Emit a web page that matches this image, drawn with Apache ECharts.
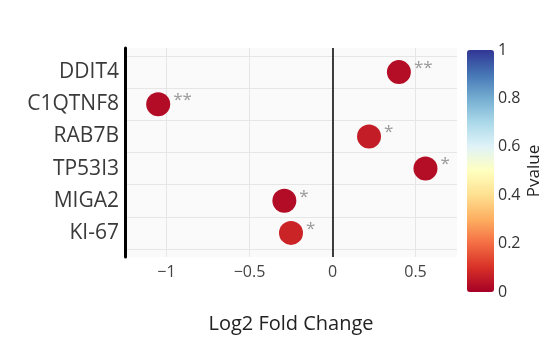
<!DOCTYPE html>
<html>
<head>
<meta charset="utf-8">
<script src="https://cdn.jsdelivr.net/npm/echarts@6/dist/echarts.min.js"></script>
<style>
html,body{margin:0;padding:0;background:#fff;}
#chart{width:558px;height:339px;}
</style>
</head>
<body>
<div id="chart"></div>
<script>
// ---- data ----
const genes = ['DDIT4', 'C1QTNF8', 'RAB7B', 'TP53I3', 'MIGA2', 'KI-67'];
const log2fc = [0.40, -1.05, 0.22, 0.56, -0.29, -0.25];
const pvalues = [0.03, 0.025, 0.06, 0.03, 0.025, 0.075];
const significance = ['**', '**', '*', '*', '*', '*'];
const xTicks = [-1, -0.5, 0, 0.5];
const colorbarTicks = [0, 0.2, 0.4, 0.6, 0.8, 1];
const rdylbu = ['#a50026','#d73027','#f46d43','#fdae61','#fee090','#ffffbf','#e0f3f8','#abd9e9','#74add1','#4575b4','#313695'];

const points = genes.map((g, i) => ({ value: [log2fc[i], i, pvalues[i]], sig: significance[i] }));
const catIdx = genes.map((g, i) => i);
const boundaries = genes.map((g, i) => i - 0.5).concat([genes.length - 0.5]);

const chart = echarts.init(document.getElementById('chart'), null, { renderer: 'canvas' });
const FONT = '"Open Sans", "DejaVu Sans", sans-serif';

chart.setOption({
  animation: false,
  backgroundColor: '#ffffff',
  grid: [
    { left: 125, right: 101, top: 48, bottom: 79, show: true, backgroundColor: '#fafafa', borderWidth: 0 },
    { left: 467, width: 27, top: 50, height: 242, show: false }
  ],
  xAxis: [
    {
      gridIndex: 0, type: 'value', min: -1.25, max: 0.75,
      axisLine: { show: false },
      axisTick: { show: false, customValues: xTicks },
      splitLine: { show: true, lineStyle: { color: '#e6e6e6', width: 1 } },
      axisLabel: {
        customValues: xTicks, fontFamily: FONT, fontSize: 16, color: '#444', margin: 7,
        formatter: v => String(v).replace('-', '\u2212')
      },
      name: 'Log2 Fold Change', nameLocation: 'middle', nameGap: 57,
      nameTextStyle: { fontFamily: FONT, fontSize: 20, color: '#222' }
    },
    { gridIndex: 1, type: 'value', min: 0, max: 1, show: false }
  ],
  yAxis: [
    {
      gridIndex: 0, type: 'value', inverse: true, min: -0.75, max: genes.length - 0.25,
      axisLine: { show: true, onZero: false, lineStyle: { color: '#000', width: 3 } },
      axisTick: { show: false, customValues: boundaries },
      splitLine: { show: true, lineStyle: { color: '#e6e6e6', width: 1 } },
      axisLabel: {
        customValues: catIdx, fontFamily: FONT, fontSize: 21, color: '#3a3a3a', margin: 6,
        formatter: v => genes[Math.round(v)]
      }
    },
    {
      gridIndex: 1, type: 'value', min: 0, max: 1, interval: 0.2, position: 'right',
      axisLine: { show: false }, axisTick: { show: false }, splitLine: { show: false },
      axisLabel: { fontFamily: FONT, fontSize: 16, color: '#333', margin: 4,
        formatter: v => String(Math.round(v * 10) / 10) },
      name: 'Pvalue', nameLocation: 'middle', nameRotate: 90, nameGap: 32,
      nameTextStyle: { fontFamily: FONT, fontSize: 17, color: '#222' }
    }
  ],
  visualMap: {
    type: 'continuous', min: 0, max: 1, dimension: 2, seriesIndex: 0,
    calculable: false, show: true, left: 467, top: 50, itemWidth: 27, itemHeight: 242,
    padding: 0, text: null, inRange: { color: rdylbu.slice() },
    hoverLink: false
  },
  series: [
    {
      type: 'scatter', xAxisIndex: 0, yAxisIndex: 0,
      symbolSize: 24,
      itemStyle: { opacity: 1 },
      data: points,
      label: {
        show: true, position: 'right', distance: 3, offset: [0, -4],
        formatter: p => p.data.sig,
        color: '#999999', fontSize: 17, fontFamily: FONT
      },
      markLine: {
        silent: true, symbol: 'none', label: { show: false },
        lineStyle: { color: '#000', width: 1.5, type: 'solid' },
        data: [{ xAxis: 0 }]
      }
    }
  ]
});
</script>
</body>
</html>
